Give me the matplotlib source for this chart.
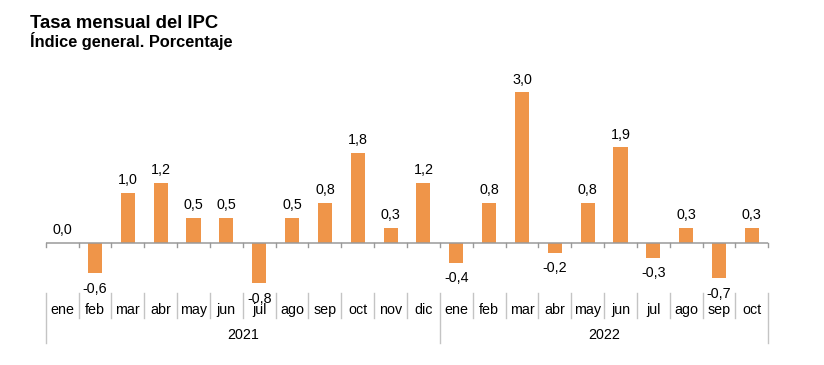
import matplotlib.pyplot as plt
import matplotlib.transforms as mtransforms
import numpy as np

plt.rcParams['font.family'] = ['Liberation Sans', 'DejaVu Sans']

years = ['2021', '2022']
months_2021 = ['ene', 'feb', 'mar', 'abr', 'may', 'jun', 'jul', 'ago', 'sep', 'oct', 'nov', 'dic']
months_2022 = ['ene', 'feb', 'mar', 'abr', 'may', 'jun', 'jul', 'ago', 'sep', 'oct']
values_2021 = [0.0, -0.6, 1.0, 1.2, 0.5, 0.5, -0.8, 0.5, 0.8, 1.8, 0.3, 1.2]
values_2022 = [-0.4, 0.8, 3.0, -0.2, 0.8, 1.9, -0.3, 0.3, -0.7, 0.3]

BAR = '#EF9549'
W, H = 824, 365

months = months_2021 + months_2022
values = values_2021 + values_2022
n = len(values)
x = np.arange(n)

fig = plt.figure(figsize=(W / 100, H / 100), dpi=100)
# axes placed in pixel terms: left 45.7, right 768.3, top 60, bottom 290
ax_l, ax_r, ax_t, ax_b = 45.7, 768.3, 60, 290
ax = fig.add_axes([ax_l / W, 1 - ax_b / H, (ax_r - ax_l) / W, (ax_b - ax_t) / H])

ax.bar(x, values, width=0.43, color=BAR, zorder=2)
ax.set_xlim(-0.5, n - 0.5)
ax.set_ylim(-0.934, 3.64)
ax.axis('off')

ax.axhline(0, color='#9a9a9a', lw=1.1, zorder=3)

for xi, v in zip(x, values):
    lbl = f'{v:.1f}'.replace('.', ',')
    if v < 0:
        ax.annotate(lbl, (xi, v), xytext=(0, -6), textcoords='offset points',
                    ha='center', va='top', fontsize=10.3, color='black')
    else:
        ax.annotate(lbl, (xi, v), xytext=(0, 4), textcoords='offset points',
                    ha='center', va='bottom', fontsize=10.3, color='black')


def ay(p):
    # pixel row (from top) -> axes fraction
    return (ax_b - p) / (ax_b - ax_t)


trans = mtransforms.blended_transform_factory(ax.transData, ax.transAxes)
bounds = np.arange(n + 1) - 0.5
year_edges = [0, len(months_2021), n]
for b in bounds:
    ax.plot([b, b], [ay(243), ay(247)], color='#9a9a9a', lw=1, transform=trans, clip_on=False)
    idx = int(b + 0.5)
    bottom = 343 if idx in year_edges else 318
    ax.plot([b, b], [ay(293), ay(bottom)], color='#c4c4c4', lw=1, transform=trans, clip_on=False)

for xi, m in zip(x, months):
    ax.text(xi, ay(310), m, ha='center', va='center', fontsize=10.3, transform=trans)

for i, yr in enumerate(years):
    c = (year_edges[i] + year_edges[i + 1]) / 2 - 0.5
    ax.text(c, ay(335), yr, ha='center', va='center', fontsize=10.3, transform=trans)

fig.text(30 / W, 1 - 28 / H, 'Tasa mensual del IPC', fontsize=13.3, fontweight='bold', ha='left', va='baseline')
fig.text(30 / W, 1 - 47 / H, 'Índice general. Porcentaje', fontsize=11.8, fontweight='bold', ha='left', va='baseline')

fig.savefig('out.png', dpi=100)
